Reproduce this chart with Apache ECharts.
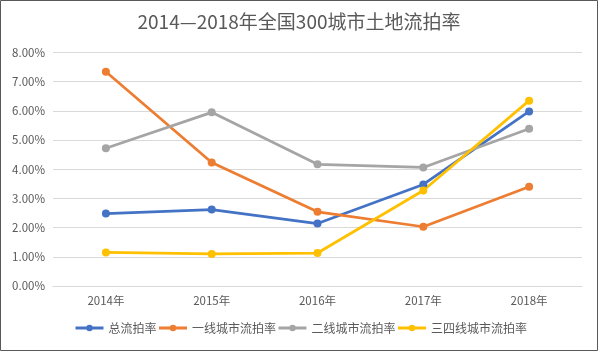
<!DOCTYPE html>
<html><head><meta charset="utf-8">
<script src="https://cdn.jsdelivr.net/npm/echarts@6/dist/echarts.min.js"></script>
<style>html,body{margin:0;padding:0;background:#fff}#c{width:598px;height:351px}</style>
</head><body><div id="c"></div>
<script>
const categories = ['2014年','2015年','2016年','2017年','2018年'];
const totalRate = [2.48, 2.62, 2.14, 3.48, 5.98];
const tier1Rate = [7.34, 4.23, 2.54, 2.03, 3.40];
const tier2Rate = [4.72, 5.95, 4.17, 4.06, 5.39];
const tier34Rate = [1.15, 1.10, 1.13, 3.27, 6.35];
const seriesNames = ['总流拍率','一线城市流拍率','二线城市流拍率','三四线城市流拍率'];
const colors = ['#4472C4','#ED7D31','#A5A5A5','#FFC000'];
const font = '"Noto Sans CJK SC", "Microsoft YaHei", sans-serif';
const chart = echarts.init(document.getElementById('c'));
const dataSets = [totalRate, tier1Rate, tier2Rate, tier34Rate];
chart.setOption({
  animation: false,
  color: colors,
  title: {text: '2014—2018年全国300城市土地流拍率', left: 'center', top: 7,
    textStyle: {fontFamily: font, fontSize: 19, fontWeight: 'normal', color: '#595959'}},
  grid: {left: 53, right: 16, top: 52.5, bottom: 65},
  legend: {left: 74, top: 322, padding: 0, itemWidth: 28, itemHeight: 8, itemGap: 1,
    lineStyle: {width: 3},
    textStyle: {fontFamily: font, fontSize: 12, color: '#595959'},
    data: seriesNames},
  xAxis: {type: 'category', data: categories, boundaryGap: true,
    axisLine: {lineStyle: {color: '#d9d9d9'}}, axisTick: {show: false},
    axisLabel: {fontFamily: font, fontSize: 11.5, color: '#595959', margin: 9}},
  yAxis: {type: 'value', min: 0, max: 8, interval: 1,
    axisLine: {show: false}, axisTick: {show: false},
    splitLine: {lineStyle: {color: '#d9d9d9'}},
    axisLabel: {fontFamily: font, fontSize: 11.5, color: '#595959', margin: 8,
      formatter: v => v.toFixed(2) + '%'}},
  series: seriesNames.map((n, i) => ({
    name: n, type: 'line', data: dataSets[i], symbol: 'circle', symbolSize: 8,
    lineStyle: {width: 2.75}
  })),
  graphic: [{type: 'rect', shape: {x: 0.5, y: 0.5, width: 597, height: 350},
    style: {fill: 'none', stroke: '#595959', lineWidth: 1}, silent: true}]
});
</script></body></html>
